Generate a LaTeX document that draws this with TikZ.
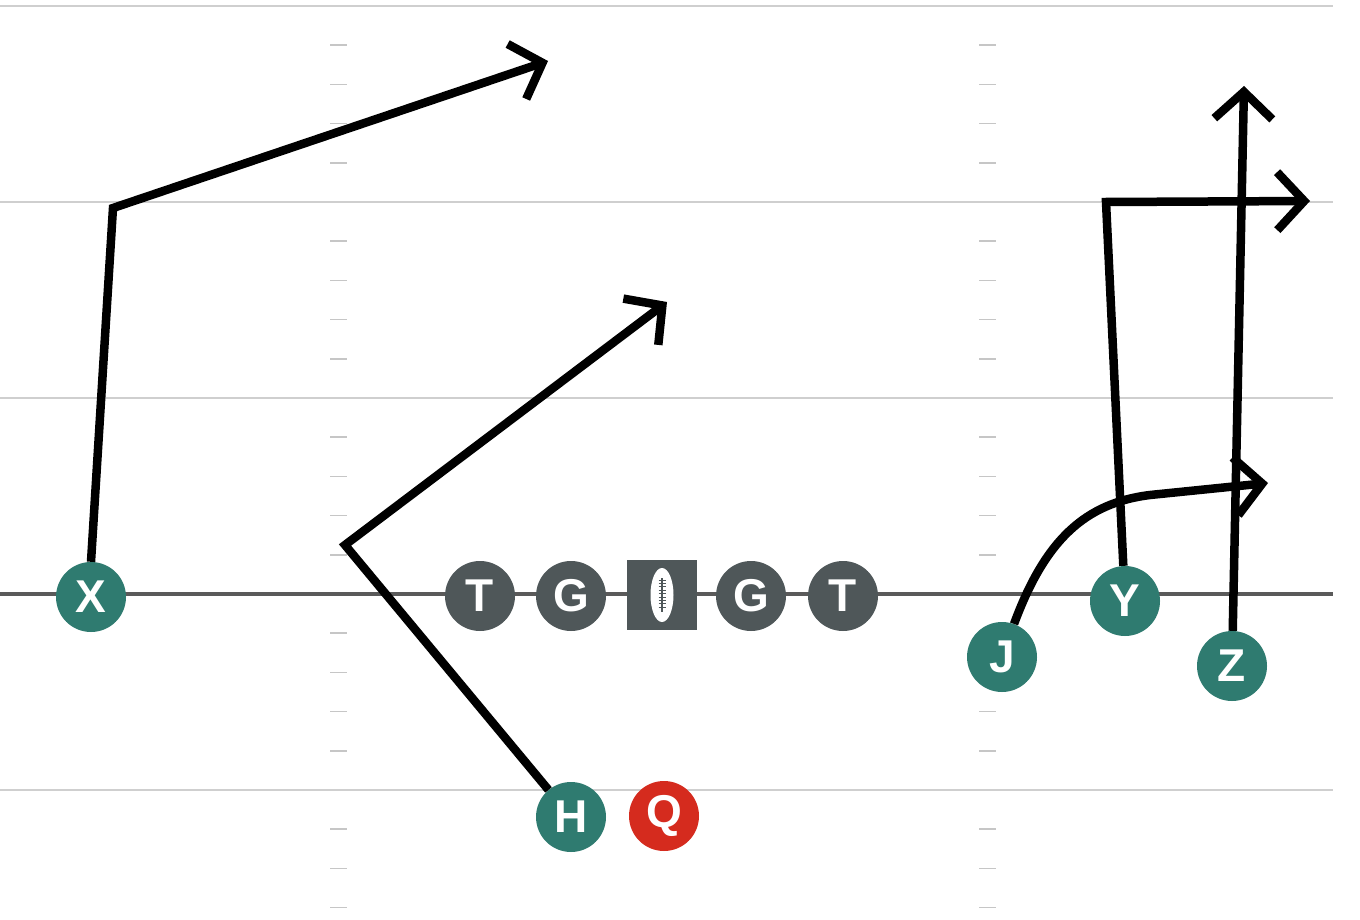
\documentclass[tikz,border=0pt]{standalone}
\usepackage{fontspec}
\setmainfont{Liberation Sans}
\usetikzlibrary{arrows.meta,calc}
\definecolor{recteal}{HTML}{2F7B70}
\definecolor{lineman}{HTML}{4F5759}
\definecolor{qbred}{HTML}{D52B1E}
\definecolor{yardline}{HTML}{CFCFCF}
\definecolor{hashmark}{HTML}{C6C6C6}
\definecolor{scrim}{HTML}{5A5A5A}
\tikzset{
  player/.style={circle, minimum size=70pt, inner sep=0pt, text=white,
    font=\fontsize{46}{46}\selectfont\bfseries},
  receiver/.style={player, fill=recteal},
  oline/.style={player, fill=lineman},
  qb/.style={player, fill=qbred},
  route/.style={line width=8.5pt, line join=miter,
    -{Straight Barb[length=27pt, width=58pt]}},
  yard/.style={yardline, line width=2pt},
  hashm/.style={hashmark, line width=1.6pt},
}
\begin{document}
\begin{tikzpicture}[x=1pt, y=-1pt]
\useasboundingbox (0,0) rectangle (1360,920);
\fill[white] (0,0) rectangle (1360,920);
% yard lines
\foreach \yy in {6,202,398,790} {
  \draw[yard] (0,\yy) -- (1333,\yy);
}
% hash marks
\foreach \base in {6,202,398,594,790} {
  \foreach \k in {1,2,3,4} {
    \pgfmathsetmacro{\hy}{\base+39.2*\k}
    \ifdim \hy pt<915pt
      \draw[hashm] (330,\hy) -- (347,\hy);
      \draw[hashm] (979,\hy) -- (996,\hy);
    \fi
  }
}
% line of scrimmage
\draw[scrim, line width=4pt] (0,594) -- (1333,594);
% offensive line
\node[oline] (T1) at (480,596) {T};
\node[oline] (G1) at (571,596) {G};
\node[fill=lineman, minimum width=70pt, minimum height=70pt, inner sep=0pt] (C) at (662,595) {};
\fill[white] (C.center) ellipse [x radius=11.5pt, y radius=27pt];
\draw[lineman, line width=1.3pt] ($(C.center)+(0,-17)$) -- ($(C.center)+(0,17)$);
\foreach \k in {-15,-11.6,...,15.5} {
  \draw[lineman, line width=1pt] ($(C.center)+(-3.5,\k)$) -- ($(C.center)+(3.5,\k)$);
}
\node[oline] (G2) at (751,596) {G};
\node[oline] (T2) at (843,596) {T};
% skill players
\node[receiver] (X) at (91,597) {X};
\node[receiver] (H) at (571,817) {H};
\node[qb] (Q) at (664,816) {Q};
\node[receiver] (J) at (1002,657) {J};
\node[receiver] (Y) at (1125,601) {Y};
\node[receiver] (Z) at (1232,666) {Z};
% route points
\coordinate (xb) at (113,208);
\coordinate (xe) at (548,61);
\coordinate (hb) at (345,545);
\coordinate (he) at (667,302);
\coordinate (yb) at (1106,202);
\coordinate (ye) at (1310,201);
\coordinate (ze) at (1244,86);
\coordinate (jm) at (1150,495);
\coordinate (je) at (1268,483);
% routes
\draw[route] (X.north) -- (xb) -- (xe);
\draw[route] (H) -- (hb) -- (he);
\draw[route] (Y) -- (yb) -- (ye);
\draw[route] (Z) -- (ze);
\draw[route] (J.70) .. controls (1045,540) and (1085,503) .. (jm) -- (je);
\end{tikzpicture}
\end{document}
